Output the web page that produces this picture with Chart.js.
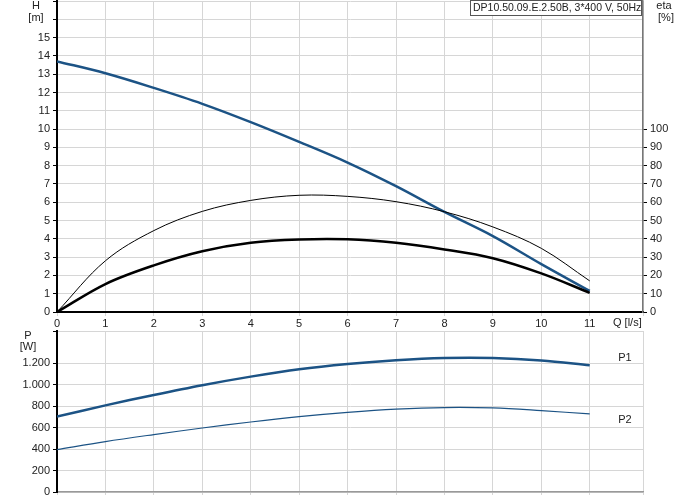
<!DOCTYPE html>
<html>
<head>
<meta charset="utf-8">
<script src="https://cdn.jsdelivr.net/npm/chart.js@4.4.1/dist/chart.umd.min.js"></script>
<style>
  body { margin: 0; background: #fff; }
  #wrap { position: relative; width: 691px; height: 500px; }
  canvas { position: absolute; left: 0; }
  #topChart { top: 0; }
  #bottomChart { top: 330px; }
</style>
</head>
<body>
<div id="wrap">
  <canvas id="topChart" width="691" height="330"></canvas>
  <canvas id="bottomChart" width="691" height="170"></canvas>
</div>
<script>
// Q [l/s]
const flow = [0, 1, 2, 3, 4, 5, 6, 7, 8, 9, 10, 11];
// H [m]
const head = [13.7, 13.05, 12.25, 11.38, 10.38, 9.3, 8.17, 6.88, 5.47, 4.15, 2.62, 1.15];
// eta [%]
const etaThin = [0, 28, 44.5, 55, 61, 63.8, 63.2, 60.3, 54.8, 46.5, 34.8, 17];
const etaThick = [0, 15.3, 25.5, 33.2, 37.8, 39.6, 39.7, 37.8, 34.2, 29.4, 21.1, 10.5];
// P [W]
const powerP1 = [702, 807, 904, 995, 1075, 1144, 1193, 1228, 1248, 1248, 1225, 1180];
const powerP2 = [395, 470, 535, 596, 652, 702, 742, 772, 787, 783, 758, 727];

const title = 'DP10.50.09.E.2.50B, 3*400 V, 50Hz';
const FONT = "'Liberation Sans', Arial, sans-serif";
const BLUE = '#1c5385';
const GRID = '#d6d6d6';

Chart.defaults.font.family = FONT;
Chart.defaults.font.size = 11;
Chart.defaults.color = '#222';

function pts(ys) {
    return flow.map((q, i) => ({ x: q, y: ys[i] }));
}

function dotThousands(v) {
    return String(v).replace(/\B(?=(\d{3})+(?!\d))/g, '.');
}

// fixed axis sizes, no extra padding from the tick labels
function fixSize(w, h) {
    return s => {
        if (w !== null) s.width = w;
        if (h !== null) s.height = h;
        s.paddingTop = 0;
        s.paddingBottom = 0;
        s.paddingLeft = 0;
        s.paddingRight = 0;
    };
}

// little helper for the loose texts around the plots
function labelsPlugin(items) {
    return {
        id: 'labels',
        afterDraw(chart) {
            const ctx = chart.ctx;
            ctx.save();
            ctx.textBaseline = 'middle';
            items.forEach(it => {
                ctx.font = (it.size || 11) + 'px ' + FONT;
                if (it.box) {
                    ctx.fillStyle = '#fff';
                    ctx.fillRect(it.box[0], it.box[1], it.box[2], it.box[3]);
                    ctx.strokeStyle = '#555';
                    ctx.lineWidth = 1;
                    ctx.strokeRect(it.box[0], it.box[1], it.box[2], it.box[3]);
                }
                ctx.fillStyle = it.color || '#222';
                ctx.textAlign = it.align || 'center';
                ctx.fillText(it.text, it.x, it.y);
            });
            ctx.restore();
        }
    };
}

const line = (data, color, width, axis) => ({
    data: pts(data),
    borderColor: color,
    borderWidth: width,
    pointRadius: 0,
    tension: 0.35,
    fill: false,
    yAxisID: axis
});

// top chart: H and eta
new Chart(document.getElementById('topChart'), {
    type: 'line',
    data: {
        datasets: [
            line(etaThin, '#000', 1, 'y1'),
            line(etaThick, '#000', 2.5, 'y1'),
            line(head, BLUE, 2.5, 'y')
        ]
    },
    options: {
        responsive: false,
        animation: false,
        layout: { autoPadding: false, padding: { top: 1, right: 0, left: 0, bottom: 0 } },
        plugins: { legend: { display: false }, tooltip: { enabled: false } },
        scales: {
            x: {
                type: 'linear',
                min: 0, max: 12.1,
                grid: { color: GRID, tickColor: GRID, tickLength: 4 },
                border: { color: '#000', width: 2 },
                ticks: {
                    stepSize: 1, padding: 1, maxRotation: 0, color: '#222',
                    callback: v => (v <= 11 && Number.isInteger(v)) ? v : ''
                },
                afterFit: fixSize(null, 18)
            },
            y: {
                position: 'left',
                min: 0, max: 17,
                grid: { color: GRID, tickColor: '#000', tickLength: 4 },
                border: { color: '#000', width: 2 },
                ticks: {
                    stepSize: 1, padding: 3, color: '#222',
                    callback: v => v <= 15 ? v : ''
                },
                afterFit: fixSize(57, null)
            },
            y1: {
                position: 'right',
                min: 0, max: 170,
                grid: { drawOnChartArea: false, tickColor: '#000', tickLength: 4 },
                border: { color: '#777', width: 1.5 },
                ticks: {
                    stepSize: 10, padding: 3, color: '#222',
                    callback: v => v <= 100 ? v : null
                },
                afterFit: fixSize(48, null)
            }
        }
    },
    plugins: [labelsPlugin([
        { text: 'H', x: 36, y: 6 },
        { text: '[m]', x: 36, y: 18 },
        { text: 'eta', x: 664, y: 6 },
        { text: '[%]', x: 666, y: 18 },
        { text: 'Q [l/s]', x: 613, y: 323, align: 'left' },
        { text: title, x: 473, y: 8, align: 'left', size: 10.5, box: [470.5, 0.5, 171, 15] }
    ])]
});

// bottom chart: P1 and P2
new Chart(document.getElementById('bottomChart'), {
    type: 'line',
    data: {
        datasets: [
            line(powerP1, BLUE, 2.5, 'y'),
            line(powerP2, BLUE, 1.2, 'y')
        ]
    },
    options: {
        responsive: false,
        animation: false,
        layout: { autoPadding: false, padding: { top: 1, right: 48, left: 0, bottom: 0 } },
        plugins: { legend: { display: false }, tooltip: { enabled: false } },
        scales: {
            x: {
                type: 'linear',
                min: 0, max: 12.1,
                grid: { color: GRID, tickColor: GRID, tickLength: 3 },
                border: { color: '#999', width: 1.5 },
                ticks: { stepSize: 1, display: false },
                afterFit: fixSize(null, 8)
            },
            y: {
                position: 'left',
                min: 0, max: 1500,
                grid: { color: GRID, tickColor: '#000', tickLength: 4 },
                border: { color: '#000', width: 2 },
                ticks: {
                    stepSize: 200, padding: 3, color: '#222',
                    callback: v => v <= 1200 ? dotThousands(v) : ''
                },
                afterFit: fixSize(57, null)
            }
        }
    },
    plugins: [labelsPlugin([
        { text: 'P', x: 28, y: 6 },
        { text: '[W]', x: 28, y: 17 },
        { text: 'P1', x: 625, y: 28 },
        { text: 'P2', x: 625, y: 90 }
    ])]
});
</script>
</body>
</html>
